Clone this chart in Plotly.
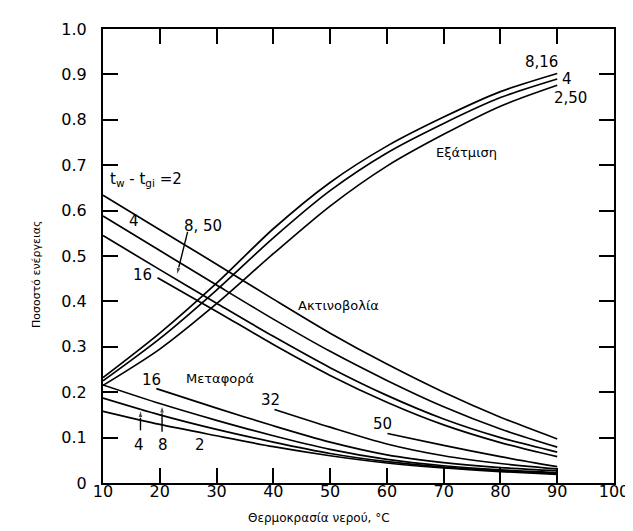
import plotly.graph_objects as go

# ---- data ----
temp = [10, 20, 30, 40, 50, 60, 70, 80, 90]

# Evaporation (Εξάτμιση)
evap_8_16 = [0.232, 0.330, 0.440, 0.560, 0.662, 0.742, 0.806, 0.862, 0.902]
evap_4 = [0.225, 0.318, 0.425, 0.540, 0.644, 0.727, 0.792, 0.849, 0.890]
evap_2_50 = [0.215, 0.295, 0.395, 0.505, 0.610, 0.698, 0.768, 0.830, 0.876]

# Radiation (Ακτινοβολία)
rad_2 = [0.634, 0.558, 0.482, 0.405, 0.330, 0.262, 0.200, 0.145, 0.097]
rad_4 = [0.588, 0.512, 0.436, 0.361, 0.290, 0.226, 0.168, 0.119, 0.079]
rad_8_50 = [0.545, 0.470, 0.396, 0.323, 0.254, 0.193, 0.141, 0.100, 0.068]
rad_16_temp = [19.6, 30, 40, 50, 60, 70, 80, 90]
rad_16 = [0.452, 0.378, 0.305, 0.237, 0.178, 0.128, 0.089, 0.058]

# Convection (Μεταφορά)
conv_2 = [0.158, 0.129, 0.104, 0.080, 0.060, 0.044, 0.033, 0.025, 0.019]
conv_4 = [0.187, 0.150, 0.118, 0.090, 0.065, 0.047, 0.035, 0.027, 0.021]
conv_8 = [0.216, 0.175, 0.138, 0.104, 0.074, 0.052, 0.038, 0.029, 0.023]
conv_16_temp = [19.4, 30, 40, 50, 60, 70, 80, 90]
conv_16 = [0.208, 0.165, 0.126, 0.090, 0.062, 0.045, 0.034, 0.027]
conv_32_temp = [40.2, 50, 60, 70, 80, 90]
conv_32 = [0.162, 0.123, 0.086, 0.060, 0.043, 0.031]
conv_50_temp = [60.1, 70, 80, 90]
conv_50 = [0.109, 0.083, 0.058, 0.036]

# pointer arrows (tail -> head) used to tie labels to curves
arrow_8_50_x = [24.9, 23.0]
arrow_8_50_y = [0.553, 0.458]
arrow_conv4_x = [16.6, 16.6]
arrow_conv4_y = [0.116, 0.161]
arrow_conv8_x = [20.4, 20.4]
arrow_conv8_y = [0.113, 0.171]

x_ticks = [10, 20, 30, 40, 50, 60, 70, 80, 90, 100]
x_tick_labels = ["10", "20", "30", "40", "50", "60", "70", "80", "90", "100"]
y_ticks = [0, 0.1, 0.2, 0.3, 0.4, 0.5, 0.6, 0.7, 0.8, 0.9, 1.0]
y_tick_labels = ["0", "0.1", "0.2", "0.3", "0.4", "0.5", "0.6", "0.7", "0.8", "0.9", "1.0"]

series = [
    (temp, evap_8_16), (temp, evap_4), (temp, evap_2_50),
    (temp, rad_2), (temp, rad_4), (temp, rad_8_50), (rad_16_temp, rad_16),
    (temp, conv_2), (temp, conv_4), (temp, conv_8),
    (conv_16_temp, conv_16), (conv_32_temp, conv_32), (conv_50_temp, conv_50),
]

fig = go.Figure()
for xs, ys in series:
    fig.add_trace(go.Scatter(x=xs, y=ys, mode="lines",
                             line=dict(color="black", width=1.7, shape="spline", smoothing=0.8),
                             showlegend=False, hoverinfo="skip"))

for ax_, ay_ in [(arrow_8_50_x, arrow_8_50_y), (arrow_conv4_x, arrow_conv4_y),
                 (arrow_conv8_x, arrow_conv8_y)]:
    fig.add_trace(go.Scatter(x=ax_, y=ay_, mode="lines+markers",
                             line=dict(color="black", width=1.4),
                             marker=dict(symbol="arrow", size=[0, 8], angleref="previous",
                                         color="black"),
                             showlegend=False, hoverinfo="skip"))

FONT = "DejaVu Sans"
num_font = dict(family=FONT, size=15, color="black")
word_font = dict(family=FONT, size=13, color="black")

labels = [
    (10.8, 0.668, "t<sub>w</sub> - t<sub>gi</sub> =2", num_font, "left"),
    (15.5, 0.578, "4", num_font, "center"),
    (27.6, 0.567, "8, 50", num_font, "center"),
    (16.9, 0.459, "16", num_font, "center"),
    (51.4, 0.392, "Ακτινοβολία", word_font, "center"),
    (74.1, 0.728, "Εξάτμιση", word_font, "center"),
    (87.2, 0.927, "8,16", num_font, "center"),
    (91.8, 0.890, "4", num_font, "center"),
    (92.3, 0.847, "2,50", num_font, "center"),
    (30.6, 0.231, "Μεταφορά", word_font, "center"),
    (18.6, 0.226, "16", num_font, "center"),
    (39.5, 0.183, "32", num_font, "center"),
    (59.2, 0.131, "50", num_font, "center"),
    (16.3, 0.083, "4", num_font, "center"),
    (20.5, 0.083, "8", num_font, "center"),
    (27.0, 0.083, "2", num_font, "center"),
]
for x, y, t, f, xa in labels:
    fig.add_annotation(x=x, y=y, text=t, showarrow=False, font=f, xanchor=xa, yanchor="middle")

# axis titles
fig.add_annotation(x=48.0, y=-0.097, xref="x", yref="paper", text="Θερμοκρασία νερού, °C",
                   showarrow=False, font=dict(family=FONT, size=12, color="black"))
fig.add_annotation(x=-0.148, y=0.46, xref="paper", yref="paper", text="Ποσοστό ενέργειας",
                   textangle=-90, showarrow=False, font=dict(family=FONT, size=11, color="black"))

axis_common = dict(showline=True, linecolor="black", linewidth=2, mirror="allticks",
                   ticks="inside", ticklen=15, tickwidth=1.6, tickcolor="black",
                   showgrid=False, zeroline=False, tickfont=dict(family=FONT, size=16, color="black"))

fig.update_xaxes(range=[10, 100], tickvals=x_ticks, ticktext=x_tick_labels,
                 ticklabelstandoff=-7, **axis_common)
fig.update_yaxes(range=[0, 1.0], tickvals=y_ticks, ticktext=y_tick_labels,
                 ticklabelstandoff=11, **axis_common)

fig.update_layout(width=633, height=531, margin=dict(l=95, r=17, t=12, b=56),
                  plot_bgcolor="white", paper_bgcolor="white")

fig.write_html("out.html")
